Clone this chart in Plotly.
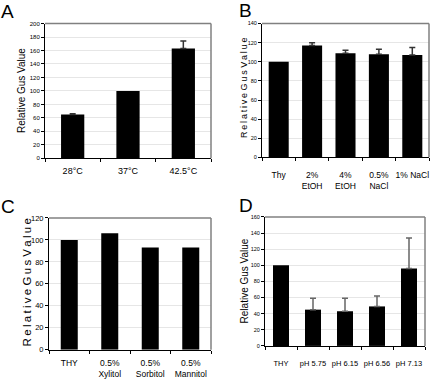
import plotly.graph_objects as go

W, H = 433, 389

# ---------------- data ----------------
a_cats = ["28°C", "37°C", "42.5°C"]
a_vals = [65, 100, 163]
a_err = [1, None, 11]

b_cats = ["Thy", "2%<br>EtOH", "4%<br>EtOH", "0.5%<br>NaCl", "1% NaCl"]
b_vals = [100, 117, 109, 108, 107]
b_err = [None, 3, 3, 5, 8]

c_cats = ["THY", "0.5%<br>Xylitol", "0.5%<br>Sorbitol", "0.5%<br>Mannitol"]
c_vals = [100, 106, 93, 93]

d_cats = ["THY", "pH 5.75", "pH 6.15", "pH 6.56", "pH 7.13"]
d_vals = [100, 45, 43, 49, 96]
d_err = [None, 14, 16, 13, 38]

# ---------------- layout helpers ----------------
def xd(x0, x1):
    return [x0 / W, x1 / W]

def yd(top, bottom):
    return [1 - bottom / H, 1 - top / H]

fig = go.Figure()

ARIAL = "Liberation Sans, Arial, sans-serif"

panels = [
    ("", a_cats, a_vals, a_err, xd(45, 211), yd(20, 158), [0, 200], 20, 0.58, "#333333",
     dict(family=ARIAL, size=9, color="black"), dict(family=ARIAL, size=6, color="black"), 4),
    ("2", b_cats, b_vals, b_err, xd(262, 429), yd(20, 157), [0, 140], 20, 0.40, "#333333",
     dict(family=ARIAL, size=8.5, color="black"), dict(family=ARIAL, size=5.5, color="black"), 9),
    ("3", c_cats, c_vals, None, xd(49, 211), yd(219, 354), [0, 120], 20, 0.58, "#333333",
     dict(family=ARIAL, size=8.5, color="black"), dict(family=ARIAL, size=7.5, color="black"), 5),
    ("4", d_cats, d_vals, d_err, xd(265, 425), yd(218, 350), [0, 160], 20, 0.50, "#666666",
     dict(family=ARIAL, size=7.5, color="black"), dict(family=ARIAL, size=5.5, color="black"), 10),
]

shapes = []
for key, cats, vals, err, xdom, ydom, yr, dt, gap, ecol, xfont, yfont, stand in panels:
    xa = "x" + key
    ya = "y" + key
    fig.add_trace(go.Bar(
        x=cats, y=vals, xaxis=xa, yaxis=ya,
        marker=dict(color="black", line=dict(width=0)),
        width=1 - gap, showlegend=False, hoverinfo="skip",
    ))
    if err is not None:
        ex = [c for c, e in zip(cats, err) if e is not None]
        ey = [v for v, e in zip(vals, err) if e is not None]
        ee = [e for e in err if e is not None]
        fig.add_trace(go.Scatter(
            x=ex, y=ey, xaxis=xa, yaxis=ya, mode="markers",
            marker=dict(size=1, color="rgba(0,0,0,0)"),
            error_y=dict(type="data", array=ee, arrayminus=[0] * len(ee), symmetric=False,
                         color=ecol, thickness=1.5, width=3),
            showlegend=False, hoverinfo="skip",
        ))
    fig.layout["xaxis" + key] = dict(
        domain=xdom, anchor=ya, type="category", categoryorder="array", categoryarray=cats,
        showline=True, linecolor="black", linewidth=1,
        ticks="outside", ticklen=3, tickcolor="black", tickson="boundaries",
        tickfont=xfont, tickangle=0, ticklabelstandoff=stand,
        showgrid=False, zeroline=False, fixedrange=True,
    )
    fig.layout["yaxis" + key] = dict(
        domain=ydom, anchor=xa, range=yr, dtick=dt,
        showline=True, linecolor="black", linewidth=1,
        ticks="outside", ticklen=3, tickcolor="black",
        tickfont=yfont, showgrid=True, gridcolor="#e6e6e6", gridwidth=1,
        zeroline=False, fixedrange=True,
    )
    xr = xa + " domain"
    yr_ = ya + " domain"
    shapes.append(dict(type="line", xref=xr, yref=yr_, x0=0, x1=1, y0=1, y1=1,
                       line=dict(color="#808080", width=1.5)))
    shapes.append(dict(type="line", xref=xr, yref=yr_, x0=1, x1=1, y0=0, y1=1,
                       line=dict(color="#808080", width=1.5)))

annotations = []
for letter, px, py in [("A", 7, 8), ("B", 245, 7), ("C", 8, 207), ("D", 246, 206)]:
    annotations.append(dict(text=letter, x=px / W, y=1 - py / H, xref="paper", yref="paper",
                            showarrow=False, xanchor="center", yanchor="middle",
                            font=dict(family=ARIAL, size=19, color="black")))

TS = "\u2009"
spaced = TS.join("Relative") + " " + TS.join("Gus") + " " + TS.join("Value")
titles = [
    ("Relative Gus Value", 22, 89, dict(family=ARIAL, size=10, color="black")),
    (spaced, 244, 86, dict(family=ARIAL, size=9, color="black")),
    (spaced, 27, 285, dict(family=ARIAL, size=11.5, color="black")),
    ("Relative Gus Value", 244, 284, dict(family=ARIAL, size=10, color="black")),
]
for t, px, py, f in titles:
    annotations.append(dict(text=t, x=px / W, y=1 - py / H, xref="paper", yref="paper",
                            showarrow=False, textangle=-90, xanchor="center", yanchor="middle",
                            font=f))

fig.update_layout(
    width=W, height=H,
    margin=dict(l=0, r=0, t=0, b=0),
    paper_bgcolor="white", plot_bgcolor="white",
    shapes=shapes, annotations=annotations,
    showlegend=False,
)

fig.write_html("out.html", config={"displayModeBar": False},
               post_script="document.body.style.margin='0';document.body.style.overflow='hidden';")
